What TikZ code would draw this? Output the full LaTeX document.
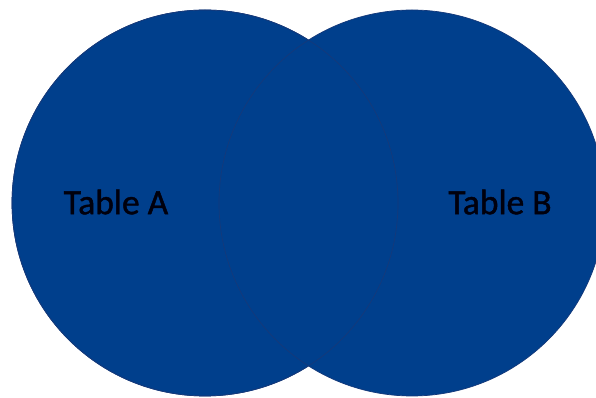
\documentclass[tikz,border=0pt]{standalone}
\usepackage{fontspec}
\setmainfont{Carlito}
\newfontfamily\labelfont[FakeBold=1.2]{Carlito}
\usepackage{xcolor}
\definecolor{setblue}{HTML}{003F8C}
\definecolor{setedge}{HTML}{15397A}
\tikzset{%
  setdisc/.style={circle,inner sep=0pt,minimum size=386pt,fill=setblue,draw=setedge,line width=0.7pt},%
  setrim/.style={circle,inner sep=0pt,minimum size=386pt,draw=setedge,line width=0.7pt},%
  setlabel/.style={font=\labelfont\fontsize{35.5}{40}\selectfont,text=black!95!blue}%
}
\begin{document}
\begin{tikzpicture}[x=1pt,y=1pt]%
          \useasboundingbox (0,0) rectangle (596,398);%
          \clip (0,0) rectangle (596,398);%
          \node [setdisc] (A) at (205,195) {};%
          \node [setdisc] (B) at (412,195) {};%
          \node [setrim] (Arim) at (A) {};%
          \node [setlabel] (labelA) at (116,196) {Table A};%
          \node [setlabel] (labelB) at (500,196) {Table B};%
        \end{tikzpicture}
\end{document}
